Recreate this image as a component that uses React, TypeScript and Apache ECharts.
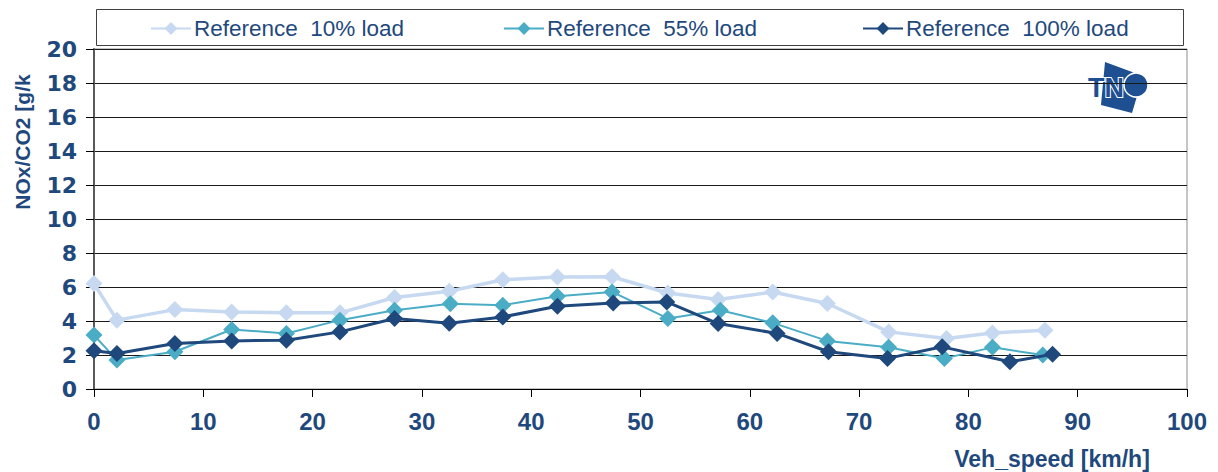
import React, { useEffect, useRef } from "react";
import * as echarts from "echarts";

const seriesNames = ["Reference  10% load", "Reference  55% load", "Reference  100% load"];
const colors = ["#c6d9f1", "#4bacc6", "#1f497d"];

const x10 = [0, 2.1, 7.4, 12.6, 17.6, 22.5, 27.5, 32.5, 37.4, 42.4, 47.4, 52.5, 57.1, 62.1, 67.1, 72.7, 78.0, 82.2, 87.0];
const y10 = [6.2, 4.05, 4.67, 4.53, 4.48, 4.48, 5.38, 5.75, 6.43, 6.59, 6.6, 5.65, 5.26, 5.71, 5.03, 3.36, 2.97, 3.3, 3.46];

const x55 = [0, 2.1, 7.4, 12.6, 17.6, 22.5, 27.5, 32.6, 37.4, 42.4, 47.4, 52.5, 57.3, 62.1, 67.1, 72.7, 77.8, 82.2, 86.8];
const y55 = [3.17, 1.7, 2.19, 3.5, 3.27, 4.05, 4.63, 5.01, 4.93, 5.45, 5.71, 4.15, 4.63, 3.89, 2.83, 2.45, 1.8, 2.45, 2.0];

const x100 = [0, 2.1, 7.4, 12.6, 17.6, 22.5, 27.5, 32.5, 37.4, 42.4, 47.5, 52.4, 57.1, 62.5, 67.2, 72.6, 77.6, 83.8, 87.7];
const y100 = [2.25, 2.09, 2.68, 2.83, 2.87, 3.36, 4.15, 3.87, 4.24, 4.87, 5.06, 5.12, 3.85, 3.27, 2.19, 1.8, 2.48, 1.6, 2.05];

const yAxisTitle = "NOx/CO2 [g/k";
const xAxisTitle = "Veh_speed [km/h]";

const pair = (xs: number[], ys: number[]) => xs.map((x, i) => [x, ys[i]]);

export default function App() {
  const ref = useRef<HTMLDivElement>(null);
  useEffect(() => {
    if (!ref.current) return;
    const chart = echarts.init(ref.current, null, { renderer: "svg" });
    const font = "'Liberation Sans', Arial, sans-serif";
    const wide = "'DejaVu Sans', 'Liberation Sans', sans-serif";
    const navy = "#1f497d";
    const data = [pair(x10, y10), pair(x55, y55), pair(x100, y100)];
    const widths = [3.5, 2, 3];
    const legendLefts = [150, 503, 862];
    chart.setOption({
      animation: false,
      backgroundColor: "#ffffff",
      textStyle: { fontFamily: font },
      grid: {
        left: 94,
        right: 31,
        top: 49,
        bottom: 83,
        show: true,
        borderColor: "#8c8c8c",
        borderWidth: 1,
        backgroundColor: "transparent",
      },
      legend: seriesNames.map((n, i) => ({
        data: [n],
        left: legendLefts[i],
        top: 17,
        itemWidth: 40,
        itemHeight: 16,
        itemGap: 0,
        padding: 0,
        textStyle: { color: navy, fontSize: 22.5, fontFamily: font, padding: [0, 0, 0, -2] },
      })),
      xAxis: {
        type: "value",
        min: 0,
        max: 100,
        interval: 10,
        axisLine: { show: true, lineStyle: { color: "#000", width: 1 } },
        axisTick: { show: true, length: 8, lineStyle: { color: "#000" } },
        splitLine: { show: false },
        axisLabel: { color: navy, fontSize: 24, fontWeight: "bold", margin: 20, fontFamily: font },
      },
      yAxis: {
        type: "value",
        min: 0,
        max: 20,
        interval: 2,
        axisLine: { show: true, lineStyle: { color: "#595959", width: 2 } },
        axisTick: { show: true, length: 8, lineStyle: { color: "#000" } },
        splitLine: { show: true, lineStyle: { color: "#1a1a1a", width: 1 } },
        axisLabel: { color: navy, fontSize: 22, fontWeight: "bold", margin: 17, fontFamily: wide },
      },
      series: seriesNames.map((n, i) => ({
        name: n,
        type: "line",
        data: data[i],
        symbol: "diamond",
        symbolSize: 17,
        clip: false,
        lineStyle: { color: colors[i], width: widths[i] },
        itemStyle: { color: colors[i] },
        z: 2 + i,
      })),
      graphic: [
        {
          type: "rect",
          shape: { x: 96.5, y: 9.5, width: 1087, height: 36 },
          style: { fill: "none", stroke: "#404040", lineWidth: 1 },
          z: -1,
        },
        {
          type: "text",
          x: 22,
          y: 142,
          rotation: Math.PI / 2,
          style: {
            text: yAxisTitle,
            fill: navy,
            font: `bold 21px ${font}`,
            textAlign: "center",
            textVerticalAlign: "middle",
          },
        },
        {
          type: "text",
          x: 1052,
          y: 459,
          style: {
            text: xAxisTitle,
            fill: navy,
            font: `bold 23px ${font}`,
            textAlign: "center",
            textVerticalAlign: "middle",
          },
        },
        {
          type: "group",
          z: 10,
          children: [
            {
              type: "polygon",
              shape: { points: [[1105, 62], [1143, 76], [1132, 113], [1101, 105]] },
              style: { fill: "#1d4f91" },
            },
            {
              type: "circle",
              shape: { cx: 1136, cy: 85, r: 12 },
              style: { fill: "#1d4f91", stroke: "#ffffff", lineWidth: 1.5 },
            },
            {
              type: "text",
              x: 1088,
              y: 88,
              style: {
                text: "TN",
                fill: "#1d4f91",
                stroke: "#ffffff",
                lineWidth: 2,
                font: `bold 27px ${font}`,
                textAlign: "left",
                textVerticalAlign: "middle",
              },
            },
          ],
        },
      ],
    });
    return () => chart.dispose();
  }, []);
  return (
    <div
      ref={ref}
      style={{ position: "fixed", left: 0, top: 0, width: 1218, height: 472, background: "#fff" }}
    />
  );
}
